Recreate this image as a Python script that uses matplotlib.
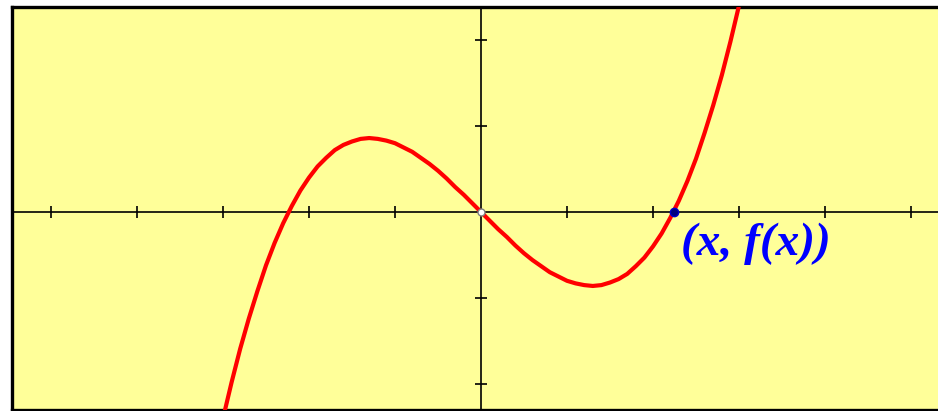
import matplotlib
matplotlib.use("Agg")
import matplotlib.pyplot as plt

# points (x, y in axis units, one tick = 1)
curve_x = [-3.0, -2.9, -2.8, -2.7, -2.6, -2.5, -2.4, -2.3, -2.2, -2.1,
           -2.0, -1.9, -1.8, -1.7, -1.6, -1.5, -1.4, -1.3, -1.2, -1.1,
           -1.0, -0.9, -0.8, -0.7, -0.6, -0.5, -0.4, -0.3, -0.2, -0.1,
           0.0, 0.1, 0.2, 0.3, 0.4, 0.5, 0.6, 0.7, 0.8, 0.9,
           1.0, 1.1, 1.2, 1.3, 1.4, 1.5, 1.6, 1.7, 1.8, 1.9,
           2.0, 2.1, 2.2, 2.3, 2.4, 2.5, 2.6, 2.7, 2.8, 2.9, 3.0]
curve_y = [-2.40, -1.98, -1.59, -1.24, -0.92, -0.62, -0.36, -0.13, 0.07, 0.25,
           0.40, 0.53, 0.63, 0.72, 0.78, 0.82, 0.85, 0.86, 0.85, 0.83,
           0.80, 0.75, 0.70, 0.63, 0.56, 0.48, 0.39, 0.29, 0.20, 0.10,
           0.00, -0.10, -0.20, -0.29, -0.39, -0.48, -0.56, -0.63, -0.70, -0.75,
           -0.80, -0.83, -0.85, -0.86, -0.85, -0.82, -0.78, -0.72, -0.63, -0.53,
           -0.40, -0.25, -0.07, 0.13, 0.36, 0.62, 0.92, 1.24, 1.59, 1.98, 2.40]

x_ticks = [-5, -4, -3, -2, -1, 1, 2, 3, 4, 5]
y_ticks = [-2, -1, 1, 2]

origin = (0.0, 0.0)
root_point = (2.24, 0.0)
root_label = "(x, f(x))"

W, H = 938, 411
fig = plt.figure(figsize=(W / 100, H / 100), dpi=100)
fig.patch.set_facecolor("white")

# axes box in pixels: left 12, top 7.5, bottom 409.5, right runs off the image
left_px, right_px, top_px, bot_px = 12, 942, 7.5, 409.5
ax = fig.add_axes([left_px / W, 1 - bot_px / H,
                   (right_px - left_px) / W, (bot_px - top_px) / H])
ax.set_facecolor("#ffff99")

unit = 86.0
ox, oy = 481, 212
ax.set_xlim((left_px - ox) / unit, (right_px - ox) / unit)
ax.set_ylim(-(bot_px - oy) / unit, (oy - top_px) / unit)

for side in ["left", "top", "bottom"]:
    ax.spines[side].set_linewidth(2.4)
    ax.spines[side].set_color("black")
ax.spines["right"].set_visible(False)
ax.set_xticks([])
ax.set_yticks([])

# axis lines and tick marks
ax.axhline(0, color="black", lw=1.2, zorder=2)
ax.axvline(0, color="black", lw=1.2, zorder=2)
ax.plot(x_ticks, [0] * len(x_ticks), ls="none", marker="|", ms=9, mew=1.2,
        color="black", zorder=2)
ax.plot([0] * len(y_ticks), y_ticks, ls="none", marker="_", ms=9, mew=1.2,
        color="black", zorder=2)

ax.plot(curve_x, curve_y, color="#ff0000", lw=3.0, solid_capstyle="butt",
        solid_joinstyle="round", zorder=3)

ax.plot(*origin, marker="o", ms=5, mfc="white", mec="#808080", mew=1.0, zorder=4)
ax.plot(*root_point, marker="o", ms=6, mfc="#000080", mec="#0000cc", mew=1.0,
        zorder=4)

ax.text(2.33, -0.5, root_label, color="#0000ff", fontsize=34,
        family="Liberation Serif", fontweight="bold", fontstyle="italic",
        ha="left", va="baseline", zorder=5)

fig.savefig("out.png", dpi=100)
